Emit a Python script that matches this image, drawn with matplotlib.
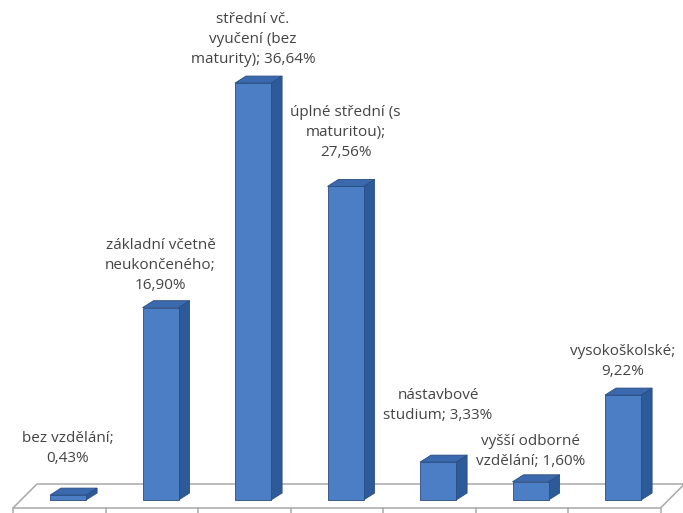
import matplotlib
matplotlib.use("Agg")
import matplotlib.pyplot as plt
from matplotlib.patches import Polygon

# ---- data ----
categories = [
    "bez vzdělání",
    "základní včetně\nneukončeného",
    "střední vč.\nvyučení (bez\nmaturity)",
    "úplné střední (s\nmaturitou)",
    "nástavbové\nstudium",
    "vyšší odborné\nvzdělání",
    "vysokoškolské",
]
values = [0.43, 16.90, 36.64, 27.56, 3.33, 1.60, 9.22]
separators = ["\n", "\n", " ", "\n", " ", " ", "\n"]

# ---- style / layout ----
label_gap_px = [29, 15, 16, 26, 39, 13, 16]
front_col = "#4C7EC6"
side_col = "#2D5A98"
top_col = "#3B69AE"
edge_col = "#2A4C80"
text_col = "#444444"

plt.rcParams['font.family'] = ['Open Sans', 'DejaVu Sans']

fig = plt.figure(figsize=(6.83, 5.13), dpi=100)
ax = fig.add_axes([0, 0, 1, 1])
ax.set_xlim(-0.1405, 7.243)
ax.set_ylim(-1.142, 43.94)
ax.axis("off")

n = len(values)
# floor
floor_y0, floor_y1 = -0.703, 1.406
floor_dx = 0.259
floor = Polygon([(0, floor_y0), (n, floor_y0), (n + floor_dx, floor_y1), (floor_dx, floor_y1)],
                closed=True, facecolor="white", edgecolor="#A8A8A8", lw=1.1, zorder=1)
ax.add_patch(floor)
for i in range(n + 1):
    ax.plot([i, i], [floor_y0, -1.142], color="#A8A8A8", lw=1.1, zorder=1)

# bars
x0_off, w = 0.40, 0.39
ddx, ddy = 0.119, 0.615
for i, v in enumerate(values):
    x0 = i + x0_off
    x1 = x0 + w
    side = Polygon([(x1, 0), (x1 + ddx, ddy), (x1 + ddx, v + ddy), (x1, v)], closed=True,
                   facecolor=side_col, edgecolor=edge_col, lw=0.6, zorder=3)
    front = Polygon([(x0, 0), (x1, 0), (x1, v), (x0, v)], closed=True,
                    facecolor=front_col, edgecolor=edge_col, lw=0.6, zorder=3.2)
    top = Polygon([(x0, v), (x1, v), (x1 + ddx, v + ddy), (x0 + ddx, v + ddy)], closed=True,
                  facecolor=top_col, edgecolor=edge_col, lw=0.6, zorder=4)
    for p in (side, front, top):
        ax.add_patch(p)
    val_str = f"{v:.2f}".replace(".", ",") + "%"
    label = categories[i] + ";" + separators[i] + val_str
    ax.annotate(label, xy=(x0 + w / 2, v), xytext=(0, label_gap_px[i]),
                textcoords="offset pixels", ha="center", va="bottom",
                fontsize=11, color=text_col, linespacing=1.45, zorder=5)

fig.savefig("out.png", dpi=100)
